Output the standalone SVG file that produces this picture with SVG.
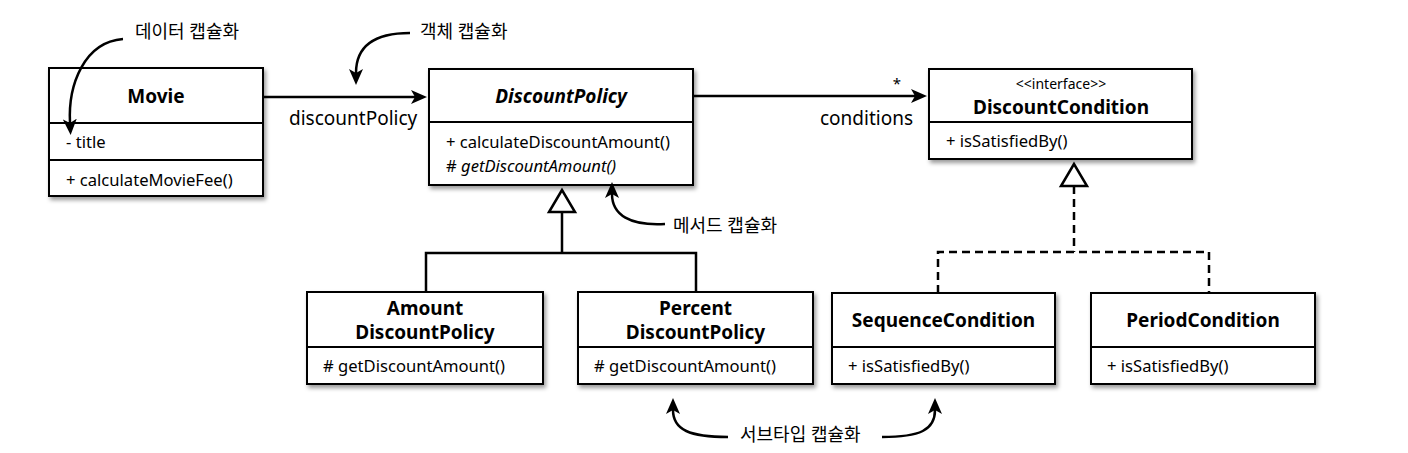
<svg xmlns="http://www.w3.org/2000/svg" width="1408" height="453" viewBox="0 0 1408 453">
<style>
text{font-family:"Noto Sans","Noto Sans CJK KR",sans-serif;fill:#000}
.box{fill:#fff;stroke:#000;stroke-width:2;filter:url(#sh)}
.div{stroke:#000;stroke-width:2}
.t{font-size:19px;font-weight:bold;text-anchor:middle}
.m{font-size:16.6px}
.lbl{font-size:19px}
.ko{font-size:18px}
.ln{fill:none;stroke:#000;stroke-width:2.5}
.dash{stroke-dasharray:8 5}
</style>
<defs>
<filter id="sh" x="-10%" y="-10%" width="130%" height="140%">
<feDropShadow dx="2" dy="3" stdDeviation="2" flood-color="#000" flood-opacity="0.4"/>
</filter>
<marker id="ah" viewBox="0 -7 16 14" refX="4" refY="0" markerWidth="16" markerHeight="14" markerUnits="userSpaceOnUse" orient="auto">
<path d="M0,-7 L16,0 L0,7 L4,0 Z" fill="#000"/>
</marker>
</defs>

<g id="connectors">
<path class="ln" d="M263,97 H415" marker-end="url(#ah)"/>
<path class="ln" d="M693,96 H915" marker-end="url(#ah)"/>
<path class="ln" d="M562,212 V253 M426,292 V253 H696 V292"/>
<polygon points="562,190 549,212 575,212" fill="#fff" stroke="#000" stroke-width="2.5"/>
<path class="ln dash" d="M1074,186 V252 M938,293 V252 H1209 V293"/>
<polygon points="1074,164 1061,186 1087,186" fill="#fff" stroke="#000" stroke-width="2.5"/>
<text x="897" y="89" style="font-size:15px" text-anchor="middle">*</text>
<text x="289" y="125" class="lbl">discountPolicy</text>
<text x="820" y="125" class="lbl">conditions</text>
</g>

<g id="Movie">
<rect class="box" x="49" y="68" width="214" height="128"/>
<line class="div" x1="49" y1="123" x2="263" y2="123"/>
<line class="div" x1="49" y1="160" x2="263" y2="160"/>
<text x="156" y="103" class="t">Movie</text>
<text x="66" y="148" class="m">- title</text>
<text x="66" y="186" class="m">+ calculateMovieFee()</text>
</g>

<g id="DiscountPolicy">
<rect class="box" x="429" y="69" width="264" height="116"/>
<line class="div" x1="429" y1="122" x2="693" y2="122"/>
<text x="561" y="103" class="t" font-style="italic">DiscountPolicy</text>
<text x="446" y="148" class="m">+ calculateDiscountAmount()</text>
<text x="446" y="172" class="m"># <tspan font-style="italic">getDiscountAmount()</tspan></text>
</g>

<g id="DiscountCondition">
<rect class="box" x="929" y="69" width="263" height="90"/>
<line class="div" x1="929" y1="122" x2="1192" y2="122"/>
<text x="1061" y="89" style="font-size:14px" text-anchor="middle">&lt;&lt;interface&gt;&gt;</text>
<text x="1061" y="114" class="t">DiscountCondition</text>
<text x="946" y="147" class="m">+ isSatisfiedBy()</text>
</g>

<g id="AmountDiscountPolicy">
<rect class="box" x="307" y="292" width="236" height="92"/>
<line class="div" x1="307" y1="347" x2="543" y2="347"/>
<text x="425" y="315" class="t">Amount</text>
<text x="425" y="339" class="t">DiscountPolicy</text>
<text x="323" y="372" class="m"># getDiscountAmount()</text>
</g>

<g id="PercentDiscountPolicy">
<rect class="box" x="578" y="292" width="235" height="92"/>
<line class="div" x1="578" y1="347" x2="813" y2="347"/>
<text x="695.5" y="315" class="t">Percent</text>
<text x="695.5" y="339" class="t">DiscountPolicy</text>
<text x="594" y="372" class="m"># getDiscountAmount()</text>
</g>

<g id="SequenceCondition">
<rect class="box" x="832" y="293" width="223" height="91"/>
<line class="div" x1="832" y1="347" x2="1055" y2="347"/>
<text x="943.5" y="327" class="t">SequenceCondition</text>
<text x="848" y="372" class="m">+ isSatisfiedBy()</text>
</g>

<g id="PeriodCondition">
<rect class="box" x="1091" y="293" width="224" height="91"/>
<line class="div" x1="1091" y1="347" x2="1315" y2="347"/>
<text x="1203" y="327" class="t">PeriodCondition</text>
<text x="1107" y="372" class="m">+ isSatisfiedBy()</text>
</g>

<g id="annotations">
<path class="ln" d="M123,39 C84,42 68,85 70,123" marker-end="url(#ah)"/>
<text x="135" y="38" class="ko">데이터 캡슐화</text>
<path class="ln" d="M410,33 C372,33 356,48 356,73" marker-end="url(#ah)"/>
<text x="420" y="38" class="ko">객체 캡슐화</text>
<path class="ln" d="M665,224 C630,226 612,215 612,194" marker-end="url(#ah)"/>
<text x="673" y="232" class="ko">메서드 캡슐화</text>
<path class="ln" d="M728,437 C690,437 673,430 673,410" marker-end="url(#ah)"/>
<path class="ln" d="M882,437 C920,437 935,430 935,410" marker-end="url(#ah)"/>
<text x="740" y="441" class="ko">서브타입 캡슐화</text>
</g>
</svg>
